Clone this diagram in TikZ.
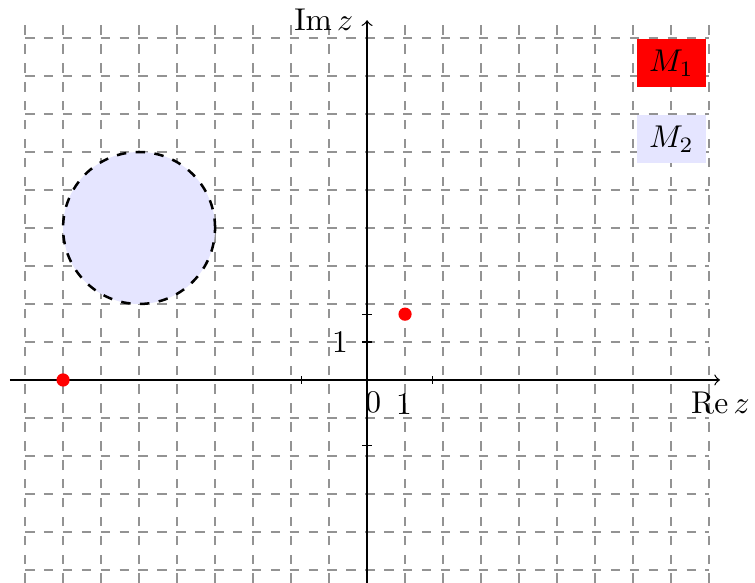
\documentclass[tikz,border=0pt]{standalone}
\usepackage{tikz}
\begin{document}
\begin{tikzpicture}[x=0.424cm,y=0.424cm,
  gridline/.style={dashed,gray!85,line width=0.4pt},
  axisline/.style={->,black,line width=0.4pt},
  tickline/.style={black,line width=0.4pt},
  reddot/.style={fill=red,draw=none},
  legendbox/.style={minimum width=0.77cm,minimum height=0.535cm,inner sep=0pt,draw=none}]
\useasboundingbox (-9.66,-5.34) rectangle (10.21,10);
% grid
\draw[gridline,step=0.424cm] (-9,-5.34) grid (9,9.37);
% disc
\draw[dashed,thick,fill=blue!10] (-6,4) circle (2);
% axes
\coordinate (xs) at (-9.4,0);
\coordinate (xe) at (9.29,0);
\coordinate (ys) at (0,-5.34);
\coordinate (ye) at (0,9.47);
\draw[axisline] (xs) -- (xe);
\draw[axisline] (ys) -- (ye);
% ticks
\draw[tickline] (-1.732,-0.1) -- (-1.732,0.1);
\draw[tickline] (1.732,-0.1) -- (1.732,0.1);
\draw[tickline] (-0.12,1.732) -- (0.12,1.732);
\draw[tickline] (-0.12,-1.732) -- (0.12,-1.732);
\draw[tickline] (-0.12,1) -- (0.12,1);
% labels
\node (imlab) at (-1.14,9.47) {$\mathrm{Im}\,z$};
\node (relab) at (9.3,-0.6) {$\mathrm{Re}\,z$};
\node (zero) at (0.16,-0.6) {$0$};
\node (onex) at (0.97,-0.64) {$1$};
\node (oney) at (-0.71,1.0) {$1$};
% points
\fill[reddot] (-8,0) circle (2.1pt);
\fill[reddot] (1,1.732) circle (2.1pt);
% legend
\node[legendbox,fill=red] (m1) at (8.01,8.34) {$M_1$};
\node[legendbox,fill=blue!10] (m2) at (8.01,6.34) {$M_2$};
\end{tikzpicture}
\end{document}
